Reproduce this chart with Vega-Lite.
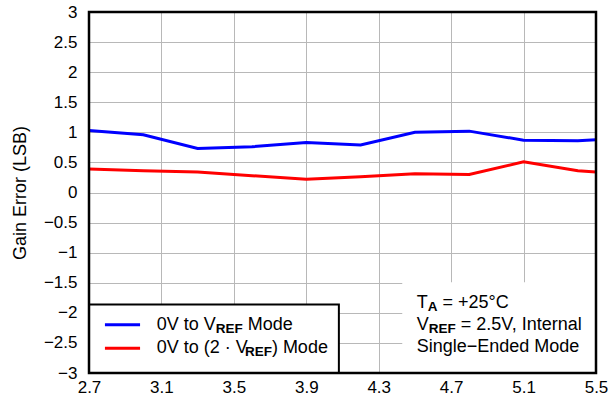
{
  "$schema": "https://vega.github.io/schema/vega-lite/v6.json",
  "width": 507,
  "height": 361,
  "autosize": "none",
  "padding": {"left": 89, "top": 12, "right": 15, "bottom": 37},
  "background": "white",
  "config": {
    "view": {"stroke": null},
    "font": "Liberation Sans",
    "axis": {
      "labelFont": "Liberation Sans",
      "labelFontSize": 17,
      "labelColor": "black",
      "titleFont": "Liberation Sans",
      "titleFontSize": 18,
      "titleFontWeight": "normal",
      "titleColor": "black",
      "grid": true,
      "gridColor": "#b8b8b8",
      "gridWidth": 1,
      "ticks": false,
      "domain": false,
      "labelFlush": false,
      "labelOverlap": false
    }
  },
  "encoding": {
    "x": {
      "field": "x",
      "type": "quantitative",
      "scale": {"domain": [2.7, 5.5], "nice": false, "zero": false},
      "axis": {
        "values": [2.7, 3.1, 3.5, 3.9, 4.3, 4.7, 5.1, 5.5],
        "format": ".1f",
        "title": null,
        "labelPadding": 6
      }
    },
    "y": {
      "field": "y",
      "type": "quantitative",
      "scale": {"domain": [-3, 3], "nice": false, "zero": false},
      "axis": {
        "values": [-3, -2.5, -2, -1.5, -1, -0.5, 0, 0.5, 1, 1.5, 2, 2.5, 3],
        "format": "~g",
        "title": "Gain Error (LSB)",
        "labelPadding": 12,
        "titlePadding": 14
      }
    }
  },
  "layer": [
    {
      "data": {
        "values": [
          {"s": "a", "x": 2.7, "y": 1.03},
          {"s": "a", "x": 3.0, "y": 0.96},
          {"s": "a", "x": 3.3, "y": 0.73},
          {"s": "a", "x": 3.6, "y": 0.76},
          {"s": "a", "x": 3.9, "y": 0.83},
          {"s": "a", "x": 4.2, "y": 0.79},
          {"s": "a", "x": 4.5, "y": 1.0},
          {"s": "a", "x": 4.8, "y": 1.02},
          {"s": "a", "x": 5.1, "y": 0.87},
          {"s": "a", "x": 5.4, "y": 0.86},
          {"s": "a", "x": 5.5, "y": 0.875},
          {"s": "b", "x": 2.7, "y": 0.39},
          {"s": "b", "x": 3.0, "y": 0.36},
          {"s": "b", "x": 3.3, "y": 0.34},
          {"s": "b", "x": 3.6, "y": 0.28},
          {"s": "b", "x": 3.9, "y": 0.22},
          {"s": "b", "x": 4.2, "y": 0.26},
          {"s": "b", "x": 4.5, "y": 0.31},
          {"s": "b", "x": 4.8, "y": 0.30},
          {"s": "b", "x": 5.1, "y": 0.51},
          {"s": "b", "x": 5.4, "y": 0.36},
          {"s": "b", "x": 5.5, "y": 0.34}
        ]
      },
      "mark": {"type": "line", "strokeWidth": 3, "clip": true},
      "encoding": {
        "color": {
          "field": "s",
          "type": "nominal",
          "scale": {"domain": ["a", "b"], "range": ["#0000ff", "#ff0000"]},
          "legend": null
        }
      }
    },
    {
      "data": {"values": [{"x": 4.43, "x2": 5.5, "y": -3, "y2": -1.49}]},
      "mark": {"type": "rect", "fill": "white", "strokeWidth": 0},
      "encoding": {"x2": {"field": "x2"}, "y2": {"field": "y2"}}
    },
    {
      "data": {"values": [{"x": 2.7, "x2": 4.08, "y": -3, "y2": -1.86}]},
      "mark": {"type": "rect", "fill": "white", "stroke": "black", "strokeWidth": 2},
      "encoding": {"x2": {"field": "x2"}, "y2": {"field": "y2"}}
    },
    {
      "data": {
        "values": [
          {"s": "a", "x": 2.788, "x2": 2.982, "y": -2.2},
          {"s": "b", "x": 2.788, "x2": 2.982, "y": -2.59}
        ]
      },
      "mark": {"type": "rule", "strokeWidth": 3},
      "encoding": {
        "x2": {"field": "x2"},
        "color": {"field": "s", "type": "nominal", "legend": null}
      }
    },
    {
      "data": {
        "values": [
          {"x": 3.074, "y": -2.2, "t": "0V to V"},
          {"x": 3.577, "y": -2.2, "t": "Mode"},
          {"x": 3.074, "y": -2.59, "t": "0V to (2 · V"},
          {"x": 3.710, "y": -2.59, "t": ") Mode"},
          {"x": 4.51, "y": -1.84, "t": "T"},
          {"x": 4.652, "y": -1.84, "t": "= +25°C"},
          {"x": 4.51, "y": -2.2, "t": "V"},
          {"x": 4.753, "y": -2.2, "t": "= 2.5V, Internal"},
          {"x": 4.51, "y": -2.57, "t": "Single−Ended Mode"}
        ]
      },
      "mark": {"type": "text", "align": "left", "baseline": "middle", "fontSize": 18, "font": "Liberation Sans", "color": "black"},
      "encoding": {"text": {"field": "t"}}
    },
    {
      "data": {
        "values": [
          {"x": 3.400, "y": -2.2, "t": "REF"},
          {"x": 3.561, "y": -2.59, "t": "REF"},
          {"x": 4.571, "y": -1.84, "t": "A"},
          {"x": 4.576, "y": -2.2, "t": "REF"}
        ]
      },
      "mark": {"type": "text", "align": "left", "baseline": "middle", "fontSize": 13.5, "fontWeight": "bold", "dy": 4, "font": "Liberation Sans", "color": "black"},
      "encoding": {"text": {"field": "t"}}
    },
    {
      "data": {"values": [{"x": 2.7, "x2": 5.5, "y": -3, "y2": 3}]},
      "mark": {"type": "rect", "filled": false, "stroke": "black", "strokeWidth": 2.5},
      "encoding": {"x2": {"field": "x2"}, "y2": {"field": "y2"}}
    }
  ]
}
